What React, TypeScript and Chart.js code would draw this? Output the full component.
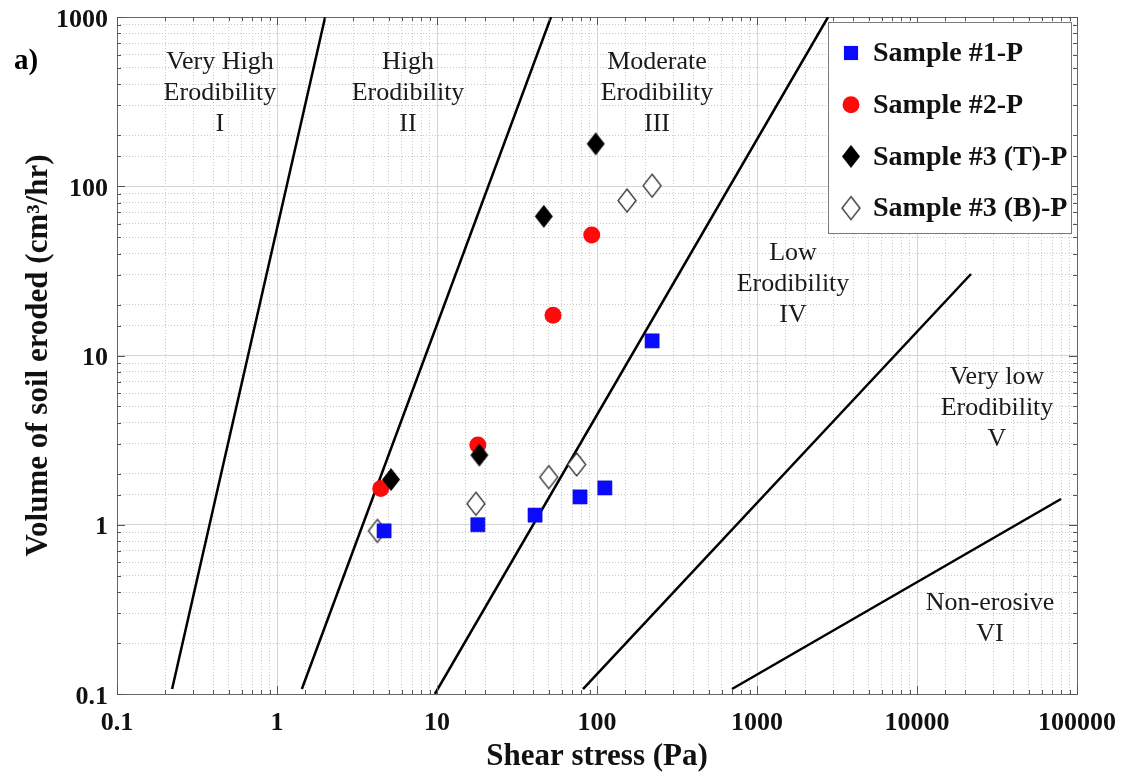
import { useEffect, useRef } from 'react';
import { Chart, registerables } from 'chart.js';
import { drawPoint } from 'chart.js/helpers';

Chart.register(...registerables);

// ---- tick labels ----
const xTickLabels = ['0.1', '1', '10', '100', '1000', '10000', '100000'];
const yTickLabels = ['0.1', '1', '10', '100', '1000'];

// ---- series ----
const seriesNames = ['Sample #1-P', 'Sample #2-P', 'Sample #3 (T)-P', 'Sample #3 (B)-P'];

const sample1X = [4.67, 18.0, 41.0, 78.3, 112, 221];
const sample1Y = [0.92, 1.0, 1.14, 1.46, 1.65, 12.2];

const sample2X = [4.45, 18.0, 53.1, 92.7];
const sample2Y = [1.64, 2.96, 17.3, 51.5];

const sample3TX = [5.16, 18.4, 46.5, 98.2];
const sample3TY = [1.85, 2.58, 66.4, 178];

const sample3BX = [4.24, 17.5, 49.9, 74.6, 154, 221];
const sample3BY = [0.92, 1.33, 1.91, 2.27, 82.3, 100.7];

// ---- erodibility class boundaries (start, end) ----
const boundaryX = [
  [0.221, 2.0],
  [1.43, 51.6],
  [9.7, 2780],
  [81.7, 21750],
  [698, 79400],
];
const boundaryY = [
  [0.107, 1000],
  [0.107, 1000],
  [0.1, 1000],
  [0.107, 30.3],
  [0.107, 1.42],
];

// ---- zone annotations ----
const zoneText = [
  ['Very High', 'Erodibility', 'I'],
  ['High', 'Erodibility', 'II'],
  ['Moderate', 'Erodibility', 'III'],
  ['Low', 'Erodibility', 'IV'],
  ['Very low', 'Erodibility', 'V'],
  ['Non-erosive', 'VI'],
];
const zoneX = [0.44, 6.59, 237, 1679, 31623, 28600];
const zoneY = [542, 542, 542, 40.4, 7.46, 0.345];

const SERIF = '"Liberation Serif", "Times New Roman", serif';

const pts = (xs: number[], ys: number[]) => xs.map((x, i) => ({ x, y: ys[i] }));

const isDecade = (v: number) => {
  const l = Math.log10(v);
  return Math.abs(l - Math.round(l)) < 1e-6;
};

function makeDiamond(fill: string, stroke: string | null, hw: number, hh: number, lw: number) {
  const c = document.createElement('canvas');
  const pad = Math.ceil(lw) + 1;
  c.width = Math.ceil(2 * hw + 2 * pad);
  c.height = Math.ceil(2 * hh + 2 * pad);
  const g = c.getContext('2d')!;
  const cx = c.width / 2;
  const cy = c.height / 2;
  g.beginPath();
  g.moveTo(cx, cy - hh);
  g.lineTo(cx + hw, cy);
  g.lineTo(cx, cy + hh);
  g.lineTo(cx - hw, cy);
  g.closePath();
  g.fillStyle = fill;
  g.fill();
  if (stroke) {
    g.strokeStyle = stroke;
    g.lineWidth = lw;
    g.stroke();
  }
  return c;
}

const innerTicksPlugin = {
  id: 'innerTicks',
  afterDatasetsDraw(chart: any) {
    const { ctx, chartArea: a } = chart;
    const xs = chart.scales.x;
    const ys = chart.scales.y;
    ctx.save();
    ctx.strokeStyle = '#555';
    ctx.lineWidth = 1;
    ctx.beginPath();
    xs.ticks.forEach((t: any) => {
      const px = Math.round(xs.getPixelForValue(t.value)) + 0.5;
      const len = isDecade(t.value) ? 8 : 4;
      ctx.moveTo(px, a.bottom);
      ctx.lineTo(px, a.bottom - len);
      ctx.moveTo(px, a.top);
      ctx.lineTo(px, a.top + len);
    });
    ys.ticks.forEach((t: any) => {
      const py = Math.round(ys.getPixelForValue(t.value)) + 0.5;
      const len = isDecade(t.value) ? 8 : 4;
      ctx.moveTo(a.left, py);
      ctx.lineTo(a.left + len, py);
      ctx.moveTo(a.right, py);
      ctx.lineTo(a.right - len, py);
    });
    ctx.stroke();
    ctx.restore();
  },
};

const zoneLabelPlugin = {
  id: 'zoneLabels',
  afterDatasetsDraw(chart: any) {
    const { ctx } = chart;
    const xs = chart.scales.x;
    const ys = chart.scales.y;
    ctx.save();
    ctx.fillStyle = '#1a1a1a';
    ctx.font = `26px ${SERIF}`;
    ctx.textAlign = 'center';
    ctx.textBaseline = 'middle';
    zoneText.forEach((lines, i) => {
      const px = xs.getPixelForValue(zoneX[i]);
      const py = ys.getPixelForValue(zoneY[i]);
      lines.forEach((s, j) => ctx.fillText(s, px, py + j * 31));
    });
    ctx.restore();
  },
};

const boxLegendPlugin = {
  id: 'boxLegend',
  afterDraw(chart: any) {
    const { ctx, chartArea: a } = chart;
    const w = 243;
    const h = 211;
    const left = a.right - 249;
    const top = a.top + 5;
    ctx.save();
    ctx.fillStyle = '#ffffff';
    ctx.fillRect(left, top, w, h);
    ctx.strokeStyle = '#7a7a7a';
    ctx.lineWidth = 1;
    ctx.strokeRect(left + 0.5, top + 0.5, w, h);
    const items = chart.data.datasets.filter((d: any) => d.label);
    items.forEach((ds: any, i: number) => {
      const cy = top + 31 + i * 51.7;
      ctx.fillStyle = ds.backgroundColor;
      ctx.strokeStyle = ds.borderColor;
      ctx.lineWidth = ds.borderWidth || 0;
      drawPoint(ctx, { pointStyle: ds.pointStyle, radius: ds.pointRadius, rotation: 0, borderWidth: 0 } as any, left + 23, cy);
      ctx.fillStyle = '#111';
      ctx.font = `bold 28px ${SERIF}`;
      ctx.textAlign = 'left';
      ctx.textBaseline = 'middle';
      ctx.fillText(ds.label, left + 45, cy + 1);
    });
    ctx.restore();
  },
};

const panelLabelPlugin = {
  id: 'panelLabel',
  afterDraw(chart: any) {
    const { ctx } = chart;
    ctx.save();
    ctx.fillStyle = '#000';
    ctx.font = `bold 29px ${SERIF}`;
    ctx.textAlign = 'left';
    ctx.textBaseline = 'middle';
    ctx.fillText('a)', 14, 62);
    ctx.restore();
  },
};

export default function App() {
  const ref = useRef<HTMLCanvasElement>(null);

  useEffect(() => {
    const canvas = ref.current!;
    const diamondFilled = makeDiamond('#000000', null, 9, 11.5, 0);
    const diamondOpen = makeDiamond('#ffffff', '#333333', 9, 11.5, 1.3);

    const lineSets = boundaryX.map((bx, i) => ({
      label: '',
      data: pts(bx, boundaryY[i]),
      showLine: true,
      borderColor: '#000000',
      backgroundColor: '#000000',
      borderWidth: 2.5,
      pointRadius: 0,
      fill: false,
      order: 10,
    }));

    const chart = new Chart(canvas, {
      type: 'scatter',
      data: {
        datasets: [
          {
            label: seriesNames[0],
            data: pts(sample1X, sample1Y),
            pointStyle: 'rect',
            pointRadius: 10,
            backgroundColor: '#0a0aff',
            borderColor: '#1010c0',
            borderWidth: 0.6,
            order: 1,
          },
          {
            label: seriesNames[1],
            data: pts(sample2X, sample2Y),
            pointStyle: 'circle',
            pointRadius: 8.5,
            backgroundColor: '#ff0a0a',
            borderColor: '#ff0a0a',
            borderWidth: 0,
            order: 3,
          },
          {
            label: seriesNames[2],
            data: pts(sample3TX, sample3TY),
            pointStyle: diamondFilled,
            pointRadius: 10,
            backgroundColor: '#000000',
            borderColor: '#000000',
            borderWidth: 0,
            order: 2,
          },
          {
            label: seriesNames[3],
            data: pts(sample3BX, sample3BY),
            pointStyle: diamondOpen,
            pointRadius: 10,
            backgroundColor: '#ffffff',
            borderColor: '#333333',
            borderWidth: 1.3,
            order: 4,
          },
          ...lineSets,
        ] as any,
      },
      options: {
        animation: false,
        responsive: true,
        maintainAspectRatio: false,
        layout: { padding: { left: 0, right: 49, top: 17, bottom: 0 } },
        plugins: {
          legend: { display: false },
          tooltip: { enabled: false },
        },
        scales: {
          x: {
            type: 'logarithmic',
            position: 'bottom',
            min: 0.1,
            max: 100000,
            grid: {
              color: (c: any) => (c.tick && isDecade(c.tick.value) ? '#d4d4d4' : 'rgba(0,0,0,0)'),
              lineWidth: 1,
              drawTicks: false,
            },
            border: { display: true, color: '#666666', width: 1 },
            ticks: {
              autoSkip: false,
              maxRotation: 0,
              minRotation: 0,
              padding: 14,
              color: '#111',
              font: { family: SERIF, size: 26, weight: 'bold' },
              callback: (v: any) => {
                const n = Number(v);
                return isDecade(n) ? xTickLabels[Math.round(Math.log10(n)) + 1] ?? '' : '';
              },
            },
            title: {
              display: true,
              text: 'Shear stress (Pa)',
              color: '#111',
              font: { family: SERIF, size: 31, weight: 'bold' },
              padding: { top: 2, bottom: 0 },
            },
            afterFit: (s: any) => {
              s.height = 82;
              s.paddingLeft = 0;
              s.paddingRight = 0;
            },
          },
          xMinor: {
            type: 'logarithmic',
            position: 'top',
            min: 0.1,
            max: 100000,
            grid: {
              color: (c: any) => (c.tick && !isDecade(c.tick.value) ? '#c8c8c8' : 'rgba(0,0,0,0)'),
              lineWidth: 1,
              drawTicks: false,
            },
            border: { display: true, color: '#666666', width: 1, dash: [1, 2] },
            ticks: { display: false, autoSkip: false },
            afterFit: (s: any) => {
              s.height = 0;
              s.paddingLeft = 0;
              s.paddingRight = 0;
            },
          },
          y: {
            type: 'logarithmic',
            position: 'left',
            min: 0.1,
            max: 1000,
            grid: {
              color: (c: any) => (c.tick && isDecade(c.tick.value) ? '#d4d4d4' : 'rgba(0,0,0,0)'),
              lineWidth: 1,
              drawTicks: false,
            },
            border: { display: true, color: '#666666', width: 1 },
            ticks: {
              autoSkip: false,
              padding: 9,
              labelOffset: 3,
              color: '#111',
              font: { family: SERIF, size: 26, weight: 'bold' },
              callback: (v: any) => {
                const n = Number(v);
                return isDecade(n) ? yTickLabels[Math.round(Math.log10(n)) + 1] ?? '' : '';
              },
            },
            title: {
              display: true,
              text: 'Volume of soil eroded (cm³/hr)',
              color: '#111',
              font: { family: SERIF, size: 31, weight: 'bold' },
              padding: { top: 20, bottom: 0 },
            },
            afterFit: (s: any) => {
              s.width = 117;
              s.paddingTop = 0;
              s.paddingBottom = 0;
            },
          },
          yMinor: {
            type: 'logarithmic',
            position: 'right',
            min: 0.1,
            max: 1000,
            grid: {
              color: (c: any) => (c.tick && !isDecade(c.tick.value) ? '#c8c8c8' : 'rgba(0,0,0,0)'),
              lineWidth: 1,
              drawTicks: false,
            },
            border: { display: true, color: '#666666', width: 1, dash: [1, 2] },
            ticks: { display: false, autoSkip: false },
            afterFit: (s: any) => {
              s.width = 0;
              s.paddingTop = 0;
              s.paddingBottom = 0;
            },
          },
        } as any,
      },
      plugins: [innerTicksPlugin, zoneLabelPlugin, boxLegendPlugin, panelLabelPlugin],
    });

    return () => chart.destroy();
  }, []);

  return (
    <div style={{ position: 'absolute', left: 0, top: 0, width: 1126, height: 776, background: '#ffffff' }}>
      <canvas ref={ref} />
    </div>
  );
}
